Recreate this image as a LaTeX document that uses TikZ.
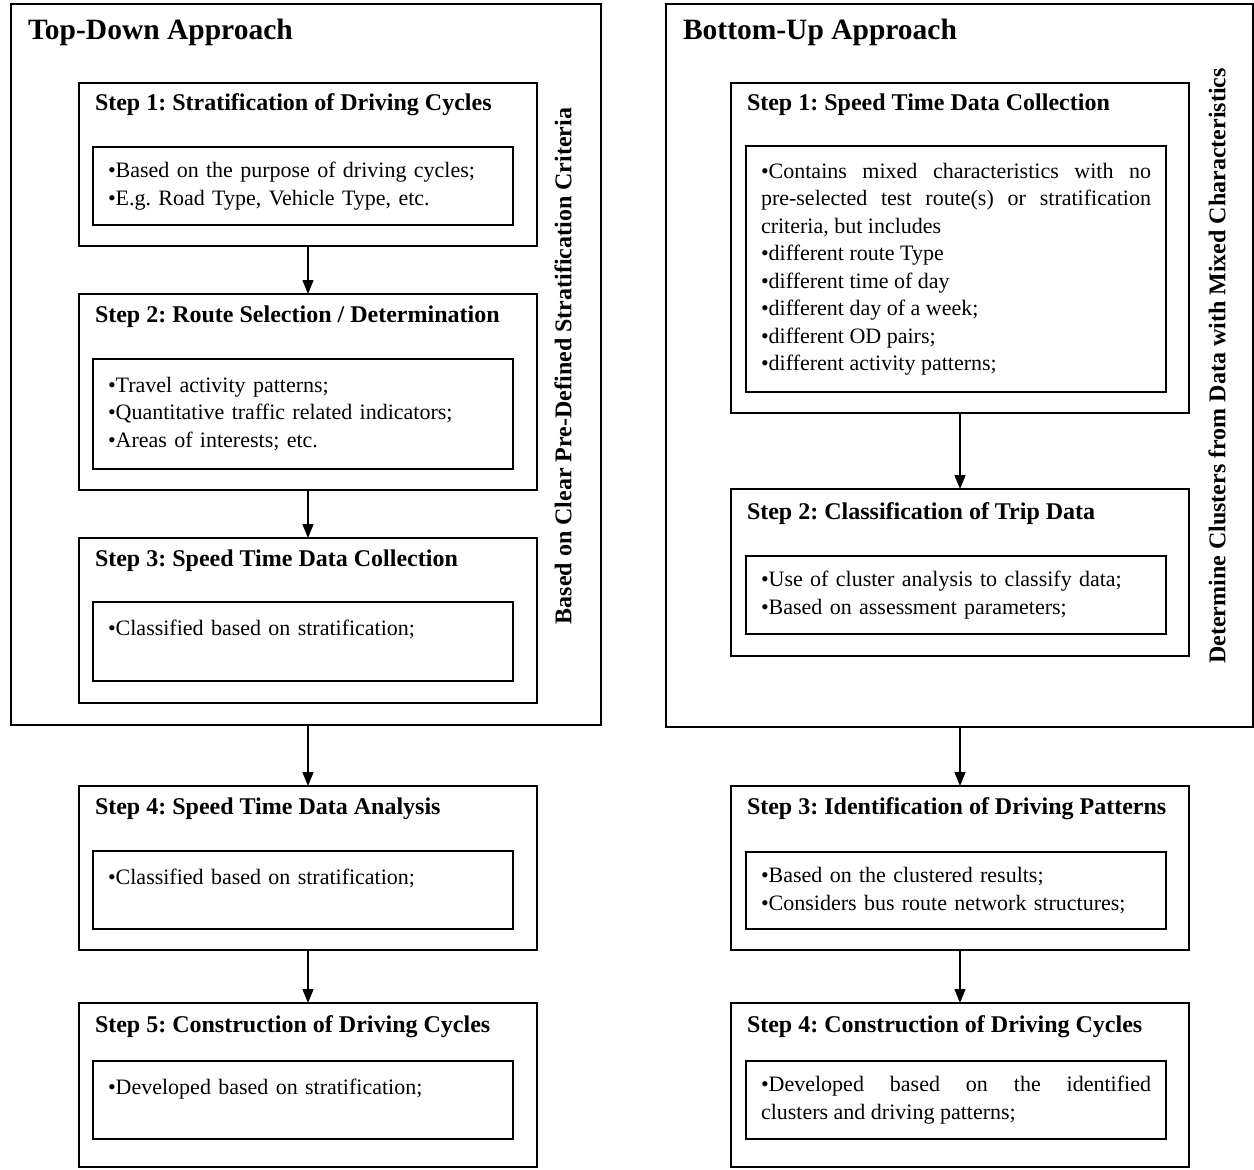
\documentclass[tikz,border=0pt]{standalone}
\usepackage{fontspec}
\setmainfont{Liberation Serif}
\usetikzlibrary{arrows.meta,positioning}
\frenchspacing

\begin{document}
\begin{tikzpicture}[
  x=1pt,y=-1pt,
  node distance=48pt,
  every node/.style={inner sep=0pt,outer sep=0pt},
  frame/.style={draw,line width=2.6pt,anchor=north west},
  stepbox/.style={draw,line width=2.6pt,minimum width=458pt,anchor=north west},
  inbox/.style={draw,line width=1.6pt,minimum width=420pt,text width=390pt,align=left,anchor=north west,font=\fontsize{22}{27.5}\selectfont},
  jbox/.style={inbox,align=justify},
  head/.style={anchor=west,font=\fontsize{29.5}{33}\selectfont\bfseries},
  steptitle/.style={anchor=west,font=\fontsize{24}{28}\selectfont\bfseries},
  side/.style={rotate=90,font=\fontsize{24}{28}\selectfont\bfseries},
  arr/.style={-{Triangle[length=14pt,width=11pt]},line width=1.3pt}
]
\useasboundingbox (0,0) rectangle (1254,1170);

% top-down approach
\node[frame,minimum width=590pt,minimum height=721pt] (td) at (11,4) {};
\node[head] (tdhead) at ([xshift=17pt,yshift=-28pt]td.north west) {Top-Down Approach};
\node[side] (tdside) at (563,366) {Based on Clear Pre-Defined Stratification Criteria};

\node[stepbox,minimum height=163pt] (a1) at (79,83) {};
\node[stepbox,minimum height=196pt,below=of a1] (a2) {};
\node[stepbox,minimum height=165pt,below=of a2] (a3) {};
\node[stepbox,minimum height=164pt,below=83pt of a3] (a4) {};
\node[stepbox,minimum height=164pt,below=53pt of a4] (a5) {};

\node[steptitle] (a1t) at ([xshift=16pt,yshift=-22pt]a1.north west) {Step 1: Stratification of Driving Cycles};
\node[steptitle] (a2t) at ([xshift=16pt,yshift=-23pt]a2.north west) {Step 2: Route Selection / Determination};
\node[steptitle] (a3t) at ([xshift=16pt,yshift=-23pt]a3.north west) {Step 3: Speed Time Data Collection};
\node[steptitle] (a4t) at ([xshift=16pt,yshift=-23pt]a4.north west) {Step 4: Speed Time Data Analysis};
\node[steptitle] (a5t) at ([xshift=16pt,yshift=-24pt]a5.north west) {Step 5: Construction of Driving Cycles};

\node[inbox,minimum height=78pt] (b1) at ([xshift=14pt,yshift=-64pt]a1.north west)
  {•Based on the purpose of driving cycles;\\•E.g. Road Type, Vehicle Type, etc.};
\node[inbox,minimum height=110pt] (b2) at ([xshift=14pt,yshift=-65pt]a2.north west)
  {•Travel activity patterns;\\•Quantitative traffic related indicators;\\•Areas of interests; etc.};
\node[inbox,minimum height=79pt] (b3) at ([xshift=14pt,yshift=-64pt]a3.north west)
  {•Classified based on stratification;\\~};
\node[inbox,minimum height=78pt] (b4) at ([xshift=14pt,yshift=-65pt]a4.north west)
  {•Classified based on stratification;\\~};
\node[inbox,minimum height=78pt] (b5) at ([xshift=14pt,yshift=-58pt]a5.north west)
  {•Developed based on stratification;\\~};

\draw[arr] (a1) -- (a2);
\draw[arr] (a2) -- (a3);
\draw[arr] (td.south -| a4.north) -- (a4);
\draw[arr] (a4) -- (a5);

% bottom-up approach
\node[frame,minimum width=587pt,minimum height=723pt] (bu) at (666,4) {};
\node[head] (buhead) at ([xshift=17pt,yshift=-28pt]bu.north west) {Bottom-Up Approach};
\node[side] (buside) at (1217,366) {Determine Clusters from Data with Mixed Characteristics};

\node[stepbox,minimum height=330pt] (c1) at (731,83) {};
\node[stepbox,minimum height=167pt,below=76pt of c1] (c2) {};
\node[stepbox,minimum height=164pt,below=130pt of c2] (c3) {};
\node[stepbox,minimum height=164pt,below=53pt of c3] (c4) {};

\node[steptitle] (c1t) at ([xshift=16pt,yshift=-22pt]c1.north west) {Step 1: Speed Time Data Collection};
\node[steptitle] (c2t) at ([xshift=16pt,yshift=-25pt]c2.north west) {Step 2: Classification of Trip Data};
\node[steptitle] (c3t) at ([xshift=16pt,yshift=-23pt]c3.north west) {Step 3: Identification of Driving Patterns};
\node[steptitle] (c4t) at ([xshift=16pt,yshift=-24pt]c4.north west) {Step 4: Construction of Driving Cycles};

\node[jbox,minimum height=246pt] (d1) at ([xshift=15pt,yshift=-63pt]c1.north west)
  {•Contains mixed characteristics with no\linebreak pre-selected test route(s) or stratification\linebreak criteria, but includes\\•different route Type\\•different time of day\\•different day of a week;\\•different OD pairs;\\•different activity patterns;};
\node[inbox,minimum height=78pt] (d2) at ([xshift=15pt,yshift=-67pt]c2.north west)
  {•Use of cluster analysis to classify data;\\•Based on assessment parameters;};
\node[inbox,minimum height=77pt] (d3) at ([xshift=15pt,yshift=-66pt]c3.north west)
  {•Based on the clustered results;\\•Considers bus route network structures;};
\node[jbox,minimum height=78pt] (d4) at ([xshift=15pt,yshift=-58pt]c4.north west)
  {•Developed based on the identified\linebreak clusters and driving patterns;};

\draw[arr] (c1) -- (c2);
\draw[arr] (bu.south -| c3.north) -- (c3);
\draw[arr] (c3) -- (c4);
\end{tikzpicture}
\end{document}
